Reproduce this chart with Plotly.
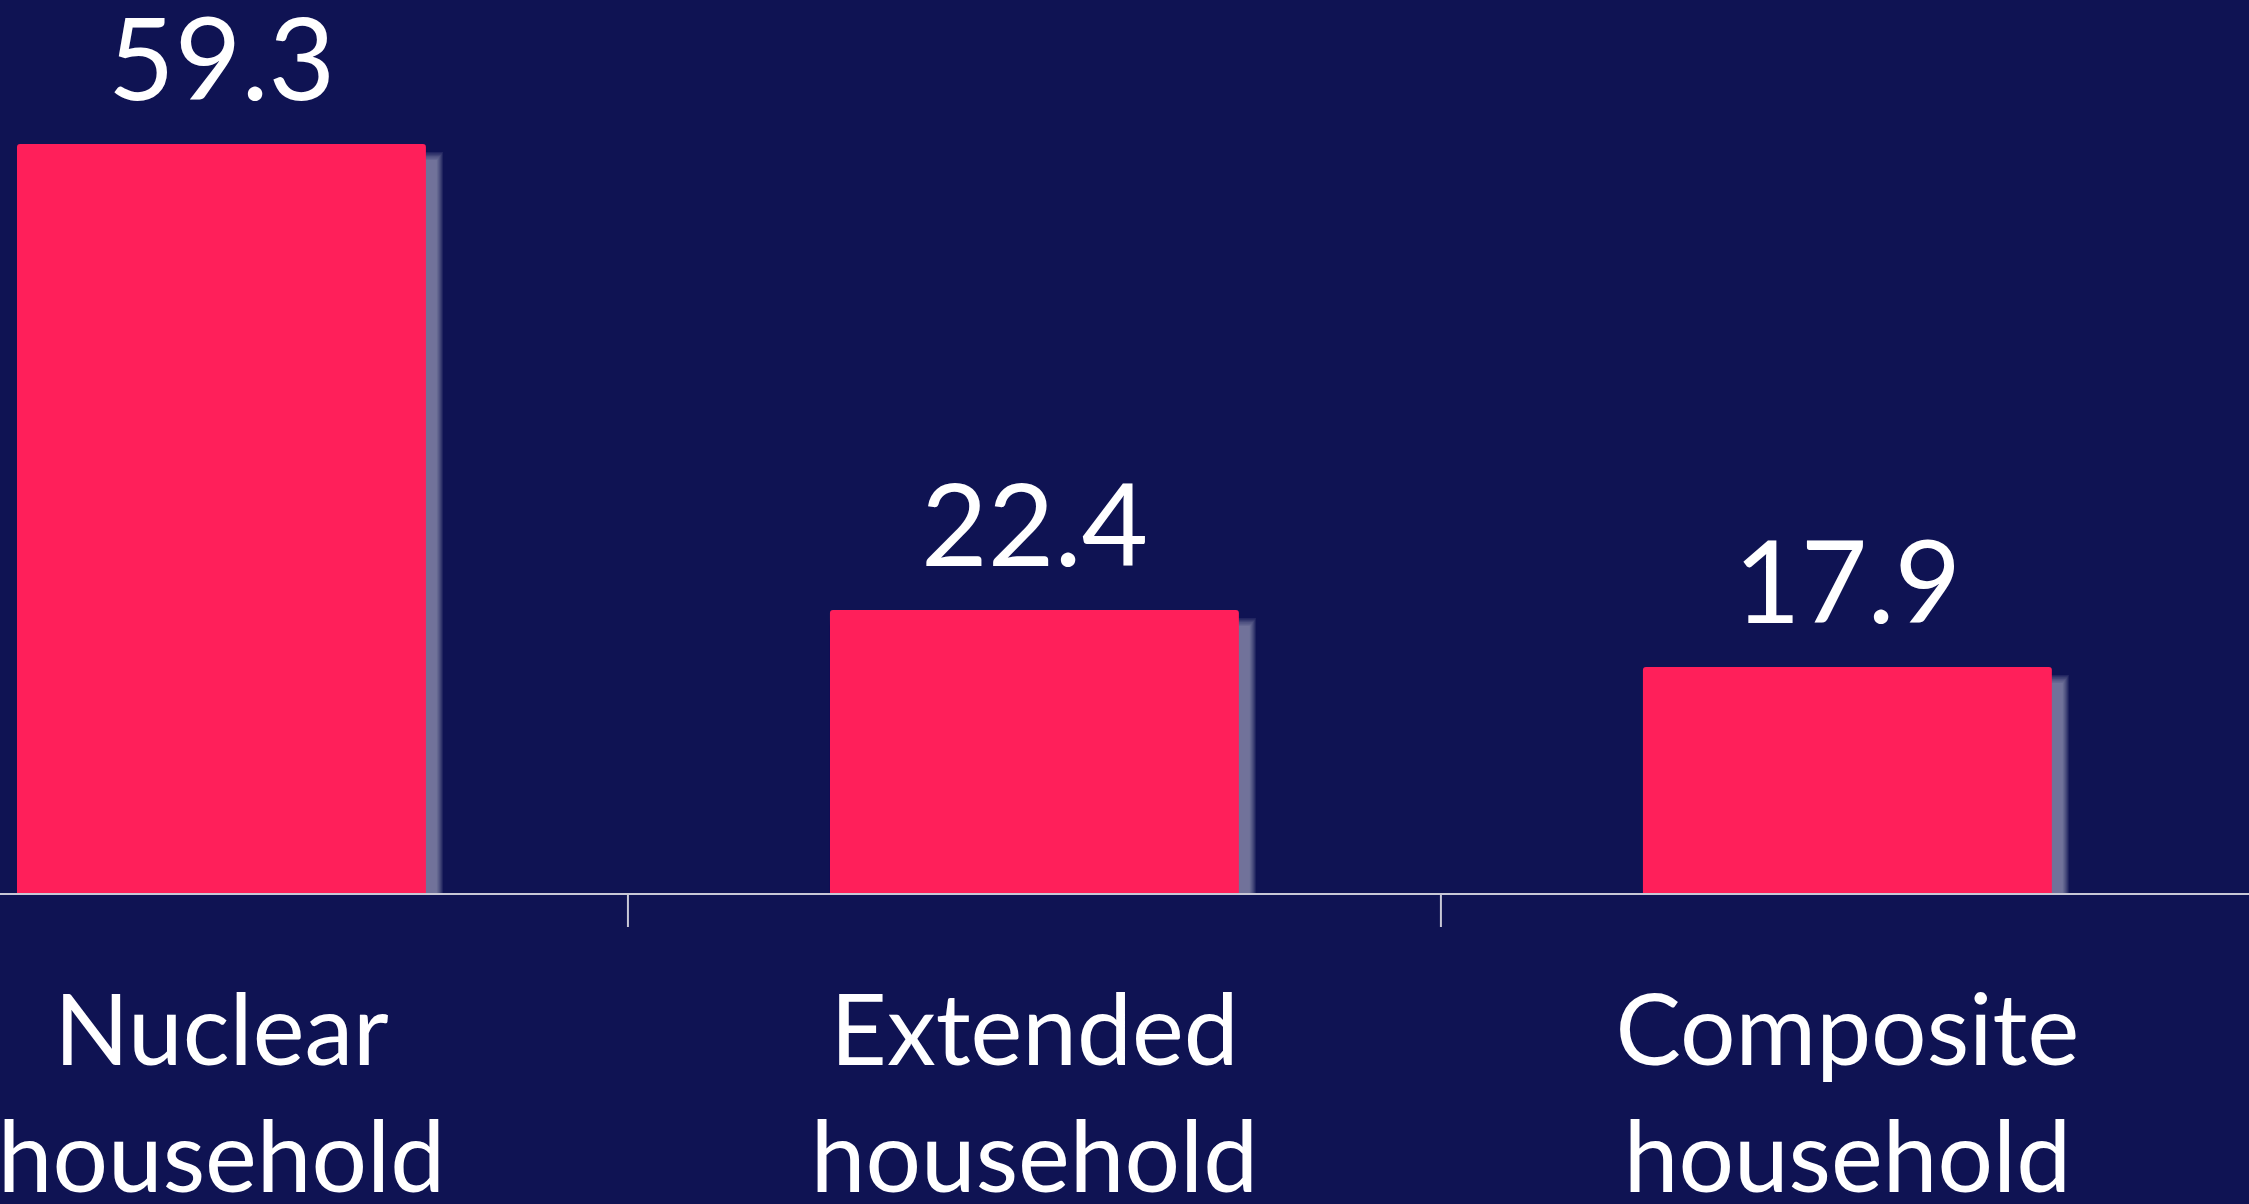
import plotly.graph_objects as go

# Household composition (%)
categories = ["Nuclear<br>household", "Extended<br>household", "Composite<br>household"]
values = [59.3, 22.4, 17.9]
value_labels = ["59.3", "22.4", "17.9"]

BG = "#0F1353"
BAR = "#FF1F5A"
AXIS = "#C8C8D6"
FONT = "Lato, 'Noto Sans', sans-serif"

W, H = 2249, 1204
BOTTOM = 311
X_RANGE = [-0.2724, 2.494]
Y_RANGE = [0, 70.7]
BAR_W = 0.503

px_x = (X_RANGE[1] - X_RANGE[0]) / W          # category units per pixel
px_y = (Y_RANGE[1] - Y_RANGE[0]) / (H - BOTTOM)  # value units per pixel

fig = go.Figure()

# soft drop shadow on the right of each bar, built from stacked translucent layers
n_layers = 7
for i in range(n_layers):
    ext = 11 + i            # how far the layer reaches past the bar's right edge (px)
    drop = 16 - i * 8 / 6   # how far the layer's top sits below the bar's top (px)
    fig.add_trace(go.Bar(
        x=list(range(len(values))),
        y=[v - drop * px_y for v in values],
        width=BAR_W + ext * px_x,
        offset=-BAR_W / 2,
        marker=dict(color="rgba(200,200,215,0.105)", line=dict(width=0)),
        hoverinfo="skip",
        showlegend=False,
    ))

fig.add_trace(go.Bar(
    x=list(range(len(values))),
    y=values,
    width=BAR_W,
    offset=-BAR_W / 2,
    marker=dict(color=BAR, line=dict(width=0), cornerradius=3),
    showlegend=False,
))

for i, (v, t) in enumerate(zip(values, value_labels)):
    fig.add_annotation(
        x=i, y=v, text=t, showarrow=False,
        yanchor="bottom", yshift=18,
        font=dict(family=FONT, size=115, color="white"),
    )

fig.update_layout(
    width=W, height=H,
    margin=dict(l=0, r=0, t=0, b=BOTTOM, autoexpand=False),
    paper_bgcolor=BG, plot_bgcolor=BG,
    barmode="overlay",
    xaxis=dict(
        type="linear",
        range=X_RANGE,
        tickmode="array",
        tickvals=[0, 1, 2],
        ticktext=categories,
        showgrid=False, zeroline=False,
        showline=True, linecolor=AXIS, linewidth=2,
        ticks="",
        automargin=False,
        ticklabeloverflow="allow",
        ticklabelstandoff=52,
        tickfont=dict(family=FONT, size=98, color="white"),
        fixedrange=True,
    ),
    yaxis=dict(
        range=Y_RANGE, visible=False, showgrid=False, zeroline=False,
        automargin=False, fixedrange=True,
    ),
)

# tick marks at the category boundaries
for b in [0.5, 1.5]:
    fig.add_shape(
        type="line", xref="x", yref="paper",
        x0=b, x1=b, y0=0, y1=-34, ysizemode="pixel", yanchor=0,
        line=dict(color=AXIS, width=2),
    )

fig.write_html("out.html")
